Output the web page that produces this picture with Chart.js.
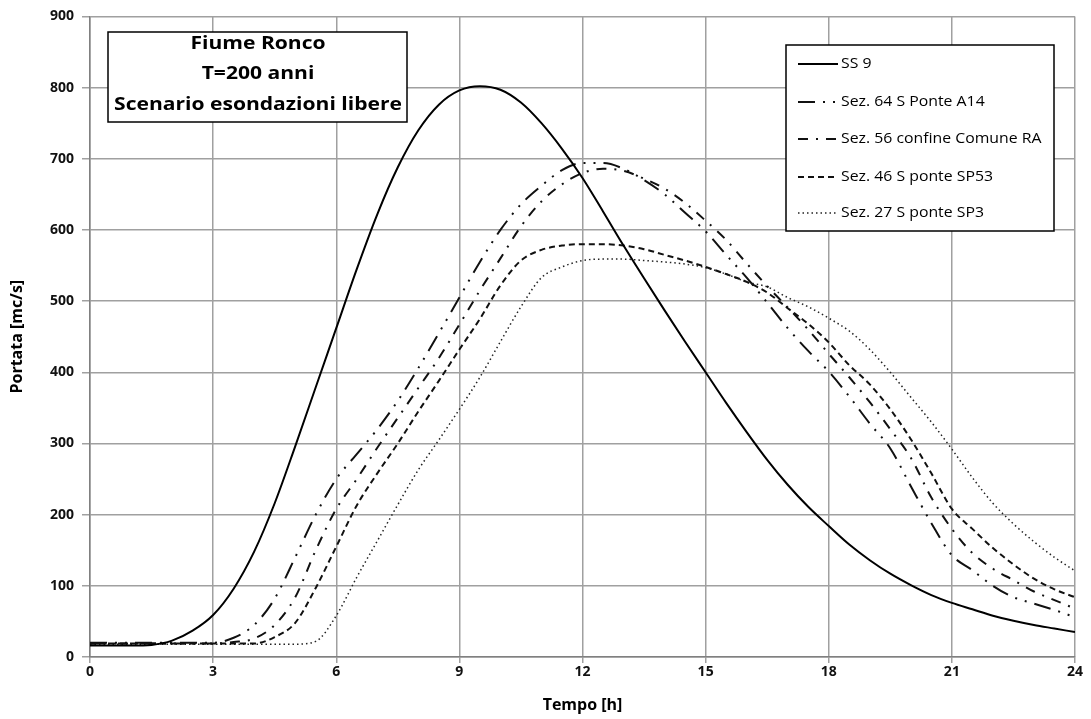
<!DOCTYPE html>
<html>
<head>
<meta charset="utf-8">
<script src="https://cdn.jsdelivr.net/npm/chart.js@4/dist/chart.umd.min.js"></script>
<style>
  html, body { margin: 0; padding: 0; background: #fff; }
  #wrap { width: 1091px; height: 719px; position: relative; }
</style>
</head>
<body>
<div id="wrap"><canvas id="chart"></canvas></div>
<script>
/* DATA */
const hours = [0, 0.5, 1, 1.5, 2, 2.5, 3, 3.5, 4, 4.5, 5, 5.5, 6, 6.5, 7, 7.5, 8, 8.5, 9, 9.5,
  10, 10.5, 11, 11.5, 12, 12.5, 13, 13.5, 14, 14.5, 15, 15.5, 16, 16.5, 17, 17.5, 18, 18.5, 19, 19.5,
  20, 20.5, 21, 21.5, 22, 22.5, 23, 23.5, 24];

const seriesNames = ["SS 9", "Sez. 64 S Ponte A14", "Sez. 56 confine Comune RA",
  "Sez. 46 S ponte SP53", "Sez. 27 S ponte SP3"];

const ss9 = [16, 16, 16, 17, 23, 37, 59, 96, 148, 216, 296, 379, 462, 545, 622, 688, 740, 776, 796, 802,
  797, 779, 750, 714, 673, 626, 578, 532, 487, 443, 400, 357, 316, 277, 242, 211, 184, 158, 136, 117,
  101, 87, 76, 67, 58, 51, 45, 40, 35];

const sez64 = [20, 20, 20, 20, 20, 20, 20, 27, 45, 82, 140, 200, 250, 285, 320, 360, 406, 455, 505, 555,
  600, 636, 662, 684, 694, 694, 686, 670, 650, 624, 598, 565, 533, 498, 462, 430, 401, 366, 328, 293,
  240, 188, 143, 122, 100, 84, 75, 66, 56];

const sez56 = [19, 19, 19, 19, 19, 19, 19, 21, 26, 45, 84, 150, 208, 250, 294, 336, 378, 420, 467, 515,
  560, 605, 640, 664, 680, 686, 683, 672, 658, 638, 613, 586, 553, 521, 491, 460, 426, 393, 358, 320,
  280, 224, 180, 146, 124, 108, 92, 80, 68];

const sez46 = [19, 19, 19, 19, 19, 19, 19, 19, 19, 28, 48, 97, 155, 213, 258, 300, 345, 388, 432, 475,
  522, 557, 572, 578, 580, 580, 578, 573, 565, 557, 548, 538, 527, 512, 490, 468, 442, 410, 383, 348,
  306, 258, 208, 180, 153, 130, 110, 95, 84];

const sez27 = [18, 18, 18, 18, 18, 18, 18, 18, 18, 18, 18, 22, 58, 112, 163, 214, 263, 305, 348, 393,
  443, 492, 533, 548, 557, 559, 559, 557, 555, 552, 547, 538, 527, 520, 505, 492, 476, 458, 432, 400,
  365, 330, 292, 252, 216, 187, 162, 140, 121];

const xTicks = [0, 3, 6, 9, 12, 15, 18, 21, 24];
const yTicks = [0, 100, 200, 300, 400, 500, 600, 700, 800, 900];
const titleLines = ["Fiume Ronco", "T=200 anni", "Scenario esondazioni libere"];

/* STYLE */
const FONT = "'Open Sans', sans-serif";
const lineStyles = [
  { color: "#000", width: 2, dash: [] },
  { color: "#111", width: 2, dash: [17, 8, 2, 8, 2, 8] },
  { color: "#111", width: 2, dash: [10, 8, 2, 8] },
  { color: "#111", width: 2, dash: [6, 4] },
  { color: "#222", width: 1.5, dash: [1.5, 3] }
];

function pts(arr) {
  return arr.map((v, i) => ({ x: hours[i], y: v }));
}

// text stretched sideways a little, like the original
function wideText(ctx, txt, x, y, sx) {
  ctx.save();
  ctx.translate(x, y);
  ctx.scale(sx, 1);
  ctx.fillText(txt, 0, 0);
  ctx.restore();
}

const allSeries = [ss9, sez64, sez56, sez46, sez27];

const datasets = allSeries.map((s, i) => ({
  label: seriesNames[i],
  data: pts(s),
  borderColor: lineStyles[i].color,
  borderWidth: lineStyles[i].width,
  borderDash: lineStyles[i].dash,
  pointRadius: 0,
  fill: false,
  cubicInterpolationMode: "monotone"
}));

/* BOXES (title + legend) */
const boxPlugin = {
  id: "boxes",
  afterDatasetsDraw(chart) {
    const ctx = chart.ctx;
    ctx.save();

    // title box
    ctx.fillStyle = "#fff";
    ctx.fillRect(108, 32, 299, 90);
    ctx.strokeStyle = "#000";
    ctx.lineWidth = 1.5;
    ctx.strokeRect(108, 32, 299, 90);
    ctx.fillStyle = "#000";
    ctx.font = "bold 18px " + FONT;
    ctx.textAlign = "center";
    ctx.textBaseline = "middle";
    const ty = [44, 74, 105];
    titleLines.forEach((t, i) => wideText(ctx, t, 258, ty[i], 1.17));

    // legend box
    ctx.fillStyle = "#fff";
    ctx.fillRect(786, 45, 268, 186);
    ctx.strokeRect(786, 45, 268, 186);
    const ly = [64, 102, 139, 177, 213];
    ctx.textAlign = "left";
    ctx.font = "14px " + FONT;
    chart.data.datasets.forEach((d, i) => {
      ctx.beginPath();
      ctx.strokeStyle = d.borderColor;
      ctx.lineWidth = d.borderWidth;
      ctx.setLineDash(d.borderDash);
      ctx.moveTo(798, ly[i]);
      ctx.lineTo(838, ly[i]);
      ctx.stroke();
      ctx.setLineDash([]);
      ctx.fillStyle = "#000";
      wideText(ctx, d.label, 841, ly[i], 1.13);
    });
    ctx.restore();
  }
};

/* CHART */
new Chart(document.getElementById("chart"), {
  type: "line",
  data: { datasets },
  plugins: [boxPlugin],
  options: {
    responsive: true,
    maintainAspectRatio: false,
    animation: false,
    layout: { padding: { top: 13, right: 16, left: 0, bottom: 0 } },
    plugins: { legend: { display: false }, tooltip: { enabled: false } },
    scales: {
      x: {
        type: "linear",
        min: 0,
        max: 24,
        afterBuildTicks: s => { s.ticks = xTicks.map(v => ({ value: v })); },
        afterFit: s => { s.height = 62; },
        grid: { color: "#a0a0a0", lineWidth: 1.5, tickLength: 6 },
        border: { color: "#808080", width: 1.5 },
        ticks: { color: "#111", padding: 1, font: { family: FONT, size: 14, weight: "bold" } },
        title: {
          display: true, text: "Tempo [h]", color: "#000",
          font: { family: FONT, size: 16, weight: "bold" }, padding: { top: 0, bottom: 4 }
        }
      },
      y: {
        min: 0,
        max: 900,
        afterBuildTicks: s => { s.ticks = yTicks.map(v => ({ value: v })); },
        afterFit: s => { s.width = 90; },
        grid: { color: "#a0a0a0", lineWidth: 1.5, tickLength: 8 },
        border: { color: "#808080", width: 1.5 },
        ticks: { color: "#111", padding: 8, font: { family: FONT, size: 14, weight: "bold" } },
        title: {
          display: true, text: "Portata [mc/s]", color: "#000",
          font: { family: FONT, size: 16, weight: "bold" }, padding: { top: 8, bottom: 0 }
        }
      }
    }
  }
});
</script>
</body>
</html>
